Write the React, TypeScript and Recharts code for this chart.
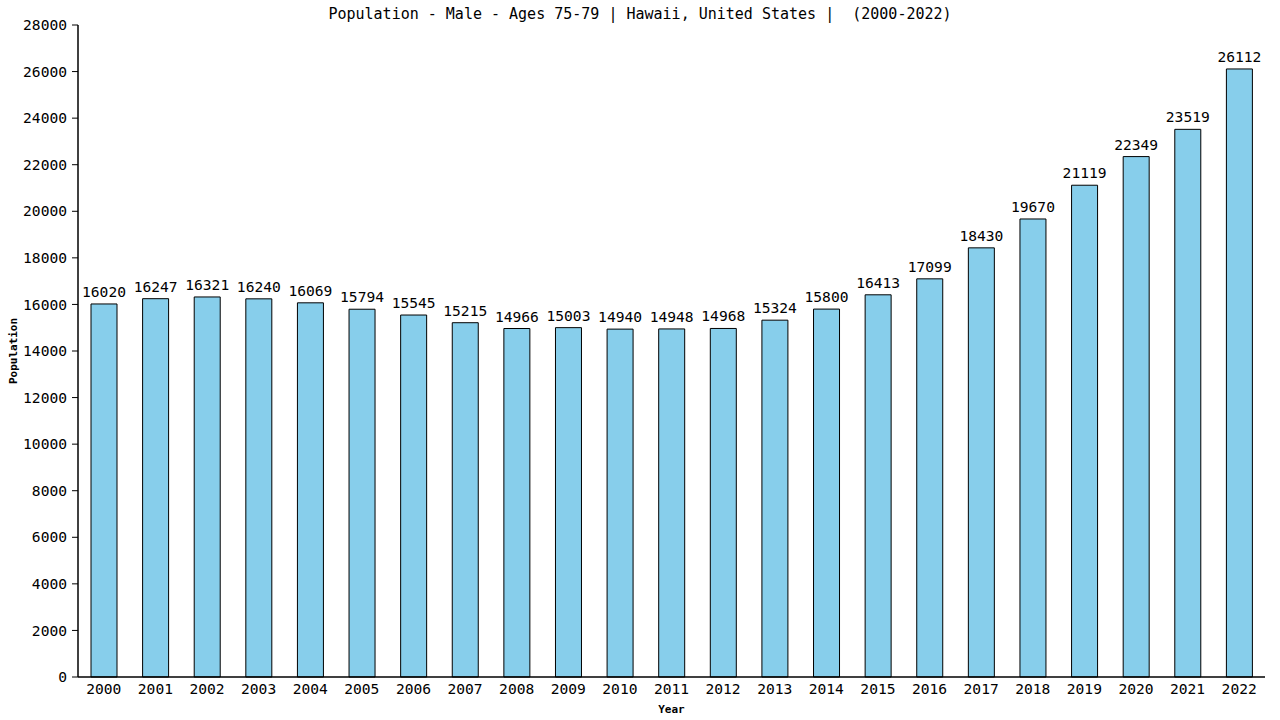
import { BarChart, Bar, XAxis, YAxis, LabelList, Label } from "recharts"

const years = [
  "2000", "2001", "2002", "2003", "2004", "2005", "2006", "2007", "2008", "2009", "2010", "2011",
  "2012", "2013", "2014", "2015", "2016", "2017", "2018", "2019", "2020", "2021", "2022",
]
const population = [
  16020, 16247, 16321, 16240, 16069, 15794, 15545, 15215, 14966, 15003, 14940, 14948,
  14968, 15324, 15800, 16413, 17099, 18430, 19670, 21119, 22349, 23519, 26112,
]
const yTicks = [0, 2000, 4000, 6000, 8000, 10000, 12000, 14000, 16000, 18000, 20000, 22000, 24000, 26000, 28000]

const title = "Population - Male - Ages 75-79 | Hawaii, United States |  (2000-2022)"

const data = years.map((year, i) => ({ year, value: population[i] }))

const mono = "'DejaVu Sans Mono', monospace"
const tickStyle = { fontFamily: mono, fontSize: 14.6, fill: "#000" }

export default function App() {
  return (
    <div style={{ position: "absolute", left: 0, top: 0, width: 1280, height: 720, background: "#fff" }}>
      <div
        style={{
          position: "absolute",
          left: 0,
          top: 5,
          width: 1280,
          textAlign: "center",
          fontFamily: mono,
          fontSize: 15,
          lineHeight: "18px",
          whiteSpace: "pre",
          color: "#000",
        }}
      >
        {title}
      </div>
      <BarChart
        width={1280}
        height={720}
        data={data}
        margin={{ top: 25, right: 15, bottom: 0, left: 0 }}
        barCategoryGap={0}
      >
        <XAxis
          dataKey="year"
          height={43}
          tickLine={false}
          tickSize={0}
          tickMargin={7}
          axisLine={{ stroke: "#000", strokeWidth: 1.5 }}
          tick={tickStyle}
          interval={0}
        >
          <Label
            content={({ viewBox }: any) => (
              <text
                x={viewBox.x + viewBox.width / 2}
                y={viewBox.y + 36}
                textAnchor="middle"
                fontFamily={mono}
                fontSize={11}
                fontWeight="bold"
                fill="#000"
              >
                Year
              </text>
            )}
          />
        </XAxis>
        <YAxis
          yAxisId="left"
          width={78}
          domain={[0, 28000]}
          ticks={yTicks}
          interval={0}
          tickSize={6}
          tickMargin={5}
          tick={tickStyle}
          tickLine={{ stroke: "#000" }}
          axisLine={{ stroke: "#000", strokeWidth: 1.5 }}
        >
          <Label
            content={({ viewBox }: any) => {
              const cx = 13
              const cy = viewBox.y + viewBox.height / 2
              return (
                <text
                  x={cx}
                  y={cy}
                  transform={`rotate(-90 ${cx} ${cy})`}
                  textAnchor="middle"
                  dominantBaseline="central"
                  fontFamily={mono}
                  fontSize={11}
                  fontWeight="bold"
                  fill="#000"
                >
                  Population
                </text>
              )
            }}
          />
        </YAxis>
        <YAxis
          yAxisId="right"
          orientation="right"
          width={0}
          domain={[0, 28000]}
          tick={false}
          tickLine={false}
          axisLine={{ stroke: "#000", strokeWidth: 1.5 }}
        />
        <Bar
          yAxisId="left"
          dataKey="value"
          fill="#87CEEB"
          stroke="#000"
          strokeWidth={1}
          barSize={26}
          isAnimationActive={false}
        >
          <LabelList dataKey="value" position="top" offset={7} style={tickStyle} />
        </Bar>
      </BarChart>
    </div>
  )
}
